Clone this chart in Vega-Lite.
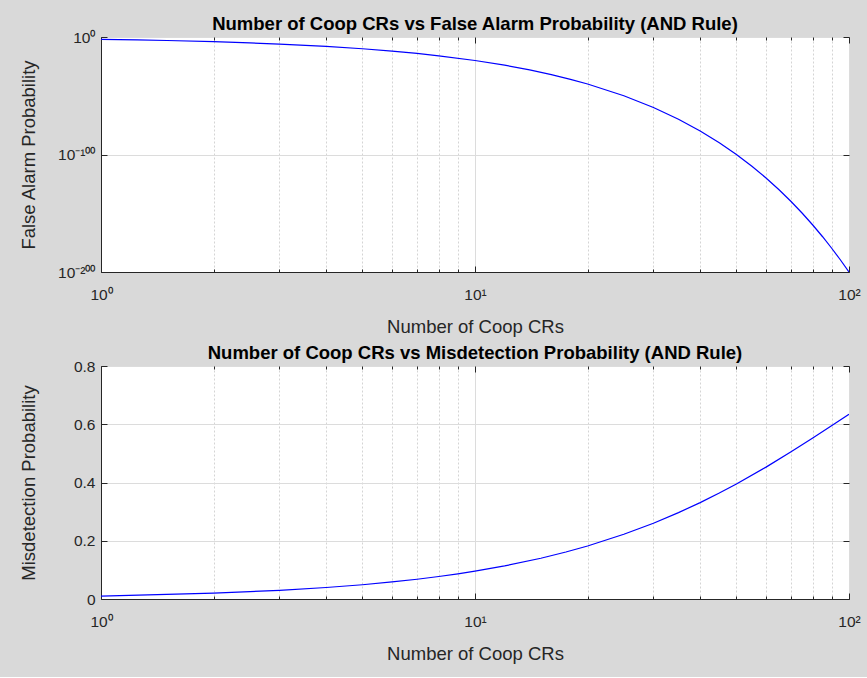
{
  "$schema": "https://vega.github.io/schema/vega-lite/v6.json",
  "background": "#d9d9d9",
  "padding": {"left": 18, "top": 14, "right": 8, "bottom": 14},
  "spacing": 7,
  "config": {
    "font": "Liberation Sans",
    "view": {"stroke": "#262626", "strokeWidth": 1, "fill": "white"},
    "axis": {"labelFont": "Liberation Sans", "titleFont": "Liberation Sans", "labelColor": "#262626", "titleColor": "#262626", "labelFontSize": 15.5, "titleFontSize": 18.5, "titleFontWeight": "normal", "domainColor": "#262626", "tickColor": "#262626", "gridColor": "#dcdcdc"},
    "title": {"font": "Liberation Sans", "fontSize": 18.5, "fontWeight": "bold", "color": "#000000", "offset": -3}
  },
  "datasets": {
    "fa": [
      {"N": 1, "P": 1e-2}, {"N": 1.25, "P": 3.16e-3}, {"N": 1.5, "P": 1e-3}, {"N": 2, "P": 1e-4},
      {"N": 2.5, "P": 1e-5}, {"N": 3, "P": 1e-6}, {"N": 4, "P": 1e-8}, {"N": 5, "P": 1e-10},
      {"N": 6, "P": 1e-12}, {"N": 7, "P": 1e-14}, {"N": 8, "P": 1e-16}, {"N": 10, "P": 1e-20},
      {"N": 12, "P": 1e-24}, {"N": 14, "P": 1e-28}, {"N": 16, "P": 1e-32}, {"N": 18, "P": 1e-36},
      {"N": 20, "P": 1e-40}, {"N": 25, "P": 1e-50}, {"N": 30, "P": 1e-60}, {"N": 35, "P": 1e-70},
      {"N": 40, "P": 1e-80}, {"N": 45, "P": 1e-90}, {"N": 50, "P": 1e-100}, {"N": 55, "P": 1e-110},
      {"N": 60, "P": 1e-120}, {"N": 65, "P": 1e-130}, {"N": 70, "P": 1e-140}, {"N": 75, "P": 1e-150},
      {"N": 80, "P": 1e-160}, {"N": 85, "P": 1e-170}, {"N": 90, "P": 1e-180}, {"N": 95, "P": 1e-190},
      {"N": 100, "P": 1e-200}
    ],
    "md": [
      {"N": 1, "P": 0.01}, {"N": 2, "P": 0.0199}, {"N": 3, "P": 0.0297}, {"N": 4, "P": 0.0394},
      {"N": 5, "P": 0.049}, {"N": 6, "P": 0.0585}, {"N": 7, "P": 0.0679}, {"N": 8, "P": 0.0773},
      {"N": 9, "P": 0.0865}, {"N": 10, "P": 0.0956}, {"N": 12, "P": 0.1136}, {"N": 15, "P": 0.1399},
      {"N": 17.5, "P": 0.1614}, {"N": 20, "P": 0.1821}, {"N": 25, "P": 0.2222}, {"N": 30, "P": 0.2603},
      {"N": 35, "P": 0.2966}, {"N": 40, "P": 0.331}, {"N": 45, "P": 0.3638}, {"N": 50, "P": 0.395},
      {"N": 60, "P": 0.4528}, {"N": 70, "P": 0.5052}, {"N": 80, "P": 0.5525}, {"N": 90, "P": 0.5953},
      {"N": 100, "P": 0.634}
    ]
  },
  "vconcat": [
    {
      "title": "Number of Coop CRs vs False Alarm Probability (AND Rule)",
      "width": 748,
      "height": 235,
      "data": {"name": "fa"},
      "resolve": {"axis": {"x": "independent", "y": "independent"}},
      "layer": [
        {
          "mark": {"type": "line", "color": "#0000ff", "strokeWidth": 1.2, "clip": true},
          "encoding": {
            "x": {"field": "N", "type": "quantitative", "scale": {"type": "log", "domain": [1, 100], "nice": false},
              "axis": {"orient": "bottom", "title": "Number of Coop CRs", "titleY": 60, "titleBaseline": "alphabetic",
                "values": [1,2,3,4,5,6,7,8,9,10,20,30,40,50,60,70,80,90,100],
                "labelExpr": "datum.value==1 ? '10⁰' : datum.value==10 ? '10¹' : datum.value==100 ? '10²' : ''",
                "labelPadding": 21, "labelFlush": false, "labelOverlap": false,
                "grid": true,
                "gridDash": {"condition": {"test": "datum.value==1||datum.value==10||datum.value==100", "value": []}, "value": [2, 2]},
                "gridColor": {"condition": {"test": "datum.value==1||datum.value==10||datum.value==100", "value": "#dcdcdc"}, "value": "#d4d4d4"},
                "tickSize": {"condition": {"test": "datum.value==1||datum.value==10||datum.value==100", "value": -6}, "value": -3}}},
            "y": {"field": "P", "type": "quantitative", "scale": {"type": "log", "domain": [1e-200, 1], "nice": false},
              "axis": {"orient": "left", "title": "False Alarm Probability", "titleX": -67, "titleBaseline": "alphabetic",
                "values": [1e-200, 1e-100, 1],
                "labelExpr": "datum.value > 0.1 ? '10⁰' : datum.value > 1e-150 ? '10⁻¹⁰⁰' : '10⁻²⁰⁰'",
                "labelPadding": 12, "labelFlush": false, "labelOverlap": false,
                "grid": true, "tickSize": -6}}
          }
        },
        {
          "mark": {"type": "line", "strokeOpacity": 0},
          "encoding": {
            "x": {"field": "N", "type": "quantitative", "scale": {"type": "log", "domain": [1, 100], "nice": false},
              "axis": {"orient": "top", "title": null, "labels": false, "grid": false, "domain": false,
                "values": [1,2,3,4,5,6,7,8,9,10,20,30,40,50,60,70,80,90,100],
                "tickSize": {"condition": {"test": "datum.value==1||datum.value==10||datum.value==100", "value": -6}, "value": -3}}},
            "y": {"field": "P", "type": "quantitative", "scale": {"type": "log", "domain": [1e-200, 1], "nice": false},
              "axis": {"orient": "right", "title": null, "labels": false, "grid": false, "domain": false,
                "values": [1e-200, 1e-100, 1], "tickSize": -6}}
          }
        }
      ]
    },
    {
      "title": "Number of Coop CRs vs Misdetection Probability (AND Rule)",
      "width": 748,
      "height": 233,
      "data": {"name": "md"},
      "resolve": {"axis": {"x": "independent", "y": "independent"}},
      "layer": [
        {
          "mark": {"type": "line", "color": "#0000ff", "strokeWidth": 1.2, "clip": true},
          "encoding": {
            "x": {"field": "N", "type": "quantitative", "scale": {"type": "log", "domain": [1, 100], "nice": false},
              "axis": {"orient": "bottom", "title": "Number of Coop CRs", "titleY": 60, "titleBaseline": "alphabetic",
                "values": [1,2,3,4,5,6,7,8,9,10,20,30,40,50,60,70,80,90,100],
                "labelExpr": "datum.value==1 ? '10⁰' : datum.value==10 ? '10¹' : datum.value==100 ? '10²' : ''",
                "labelPadding": 21, "labelFlush": false, "labelOverlap": false,
                "grid": true,
                "gridDash": {"condition": {"test": "datum.value==1||datum.value==10||datum.value==100", "value": []}, "value": [2, 2]},
                "gridColor": {"condition": {"test": "datum.value==1||datum.value==10||datum.value==100", "value": "#dcdcdc"}, "value": "#d4d4d4"},
                "tickSize": {"condition": {"test": "datum.value==1||datum.value==10||datum.value==100", "value": -6}, "value": -3}}},
            "y": {"field": "P", "type": "quantitative", "scale": {"domain": [0, 0.8], "nice": false, "zero": false},
              "axis": {"orient": "left", "title": "Misdetection Probability", "titleX": -67, "titleBaseline": "alphabetic",
                "values": [0, 0.2, 0.4, 0.6, 0.8],
                "labelExpr": "datum.value == 0 ? '0' : format(datum.value, '.1f')",
                "labelPadding": 12, "labelFlush": false, "labelOverlap": false,
                "grid": true, "tickSize": -6}}
          }
        },
        {
          "mark": {"type": "line", "strokeOpacity": 0},
          "encoding": {
            "x": {"field": "N", "type": "quantitative", "scale": {"type": "log", "domain": [1, 100], "nice": false},
              "axis": {"orient": "top", "title": null, "labels": false, "grid": false, "domain": false,
                "values": [1,2,3,4,5,6,7,8,9,10,20,30,40,50,60,70,80,90,100],
                "tickSize": {"condition": {"test": "datum.value==1||datum.value==10||datum.value==100", "value": -6}, "value": -3}}},
            "y": {"field": "P", "type": "quantitative", "scale": {"domain": [0, 0.8], "nice": false, "zero": false},
              "axis": {"orient": "right", "title": null, "labels": false, "grid": false, "domain": false,
                "values": [0, 0.2, 0.4, 0.6, 0.8], "tickSize": -6}}
          }
        }
      ]
    }
  ]
}
